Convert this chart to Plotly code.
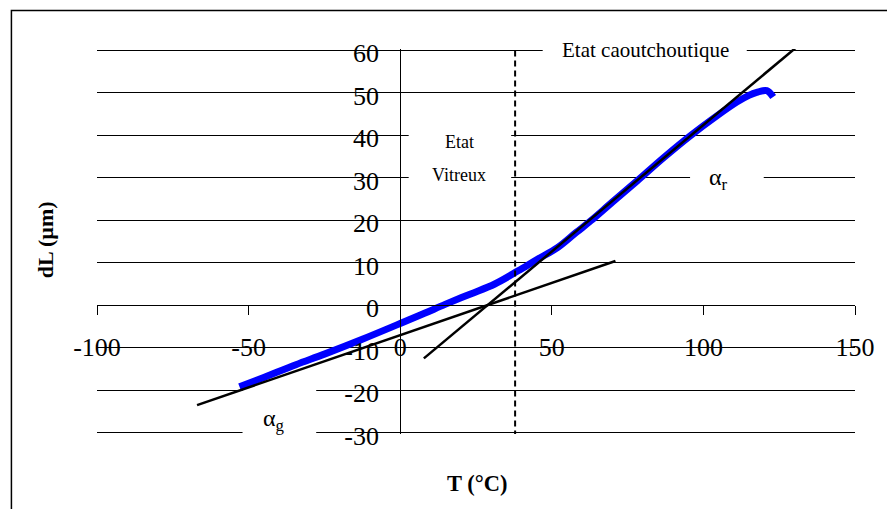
import plotly.graph_objects as go

# ---- data ----
temp_c = [-53, -45, -34.4, -25, -12.5, 0, 8, 14.8, 23, 31.2, 38.9, 45, 52, 58, 62.9, 70,
          78.2, 87, 95.7, 104.5, 111, 115, 117.6, 120.9, 123]
dl_um = [-19.2, -17.0, -14.0, -11.5, -8.0, -4.3, -1.9, 0.2, 2.6, 5.0, 8.1, 10.7, 13.6, 17.1,
         19.9, 24.3, 29.3, 34.8, 39.9, 44.6, 47.8, 49.4, 50.1, 50.5, 49.0]

glass_t = [-67, 71]
glass_dl = [-23.5, 10.4]
rubber_t = [7.8, 131]
rubber_dl = [-12.5, 60.9]
tg_t = [37.9, 37.9]
tg_dl = [-30.9, 60]

x_ticks = [-100, -50, 0, 50, 100, 150]
x_labels = ["-100", "-50", "0", "50", "100", "150"]
y_ticks = [-30, -20, -10, 0, 10, 20, 30, 40, 50, 60]
y_labels = ["-30", "-20", "-10", "0", "10", "20", "30", "40", "50", "60"]

SERIF = "Liberation Serif, Times New Roman, serif"

fig = go.Figure()
fig.add_trace(go.Scatter(x=temp_c, y=dl_um, mode="lines", line=dict(color="#0000FF", width=7, shape="spline"),
                         showlegend=False, hoverinfo="skip"))
fig.add_trace(go.Scatter(x=glass_t, y=glass_dl, mode="lines", line=dict(color="black", width=2.5),
                         showlegend=False, hoverinfo="skip"))
fig.add_trace(go.Scatter(x=rubber_t, y=rubber_dl, mode="lines", line=dict(color="black", width=2.5),
                         showlegend=False, hoverinfo="skip"))
fig.add_trace(go.Scatter(x=tg_t, y=tg_dl, mode="lines", line=dict(color="black", width=2, dash="6px,4px"),
                         showlegend=False, hoverinfo="skip"))

# white label boxes that interrupt the gridlines (below traces, above grid)
for (x0, x1, y0, y1) in [(47, 114.3, 56.5, 63), (2.8, 36.6, 27, 43), (95.6, 119.9, 26, 33.5),
                         (-52, -27.7, -33, -19.5)]:
    fig.add_shape(type="rect", x0=x0, x1=x1, y0=y0, y1=y1, xref="x", yref="y",
                  fillcolor="white", line=dict(width=0), layer="between")

# outer chart-area border (extends beyond the window on right/bottom)
fig.add_shape(type="rect", xref="paper", yref="paper", x0=-0.1129, x1=1.3, y0=-0.5, y1=1.0999,
              line=dict(color="black", width=1.5), fillcolor="rgba(0,0,0,0)", layer="above")

ann = [
    dict(x=80.9, y=59.9, text="Etat caoutchoutique", size=21, ys=1),
    dict(x=19.5, y=38.3, text="Etat", size=18, ys=0),
    dict(x=19.5, y=30.6, text="Vitreux", size=18, ys=0),
    dict(x=105, y=29.8, text="α<sub>r</sub>", size=24, ys=0),
    dict(x=-41.5, y=-27.0, text="α<sub>g</sub>", size=24, ys=0),
]
for a in ann:
    fig.add_annotation(x=a["x"], y=a["y"], xref="x", yref="y", text=a["text"], showarrow=False,
                       font=dict(family=SERIF, size=a["size"], color="black"),
                       xanchor="center", yanchor="middle", yshift=a["ys"])

fig.add_annotation(x=0.501, y=-0.128, xref="paper", yref="paper", text="<b>T (°C)</b>", showarrow=False,
                   font=dict(family=SERIF, size=22.5, color="black"), xanchor="center", yanchor="middle")
fig.add_annotation(x=-0.067, y=0.504, xref="paper", yref="paper", text="<b>dL (µm)</b>", showarrow=False,
                   textangle=-90, font=dict(family=SERIF, size=22, color="black"),
                   xanchor="center", yanchor="middle")

fig.update_layout(
    width=887, height=509,
    margin=dict(l=97, r=28, t=49.4, b=75.4),
    paper_bgcolor="white", plot_bgcolor="white",
    showlegend=False,
    font=dict(family=SERIF, color="black"),
    xaxis=dict(range=[-100, 150], tickvals=x_ticks, ticktext=x_labels, showgrid=False, zeroline=False,
               showline=True, linecolor="black", linewidth=1,
               anchor="free", position=30.3 / 90.6, ticks="outside", ticklen=9, tickcolor="black",
               tickfont=dict(family=SERIF, size=26, color="black"), ticklabelstandoff=10),
    yaxis=dict(range=[-30.3, 60.3], tickvals=y_ticks, ticktext=y_labels, showgrid=True,
               gridcolor="black", gridwidth=1,
               zeroline=False, showline=True, linecolor="black", linewidth=1,
               anchor="free", position=0.4, ticks="outside", ticklen=9, tickcolor="black",
               tickfont=dict(family=SERIF, size=26, color="black"), ticklabelstandoff=7,
               ticklabelshift=3),
)

fig.write_html("out.html", config={"displayModeBar": False},
               post_script="document.body.style.margin='0px';")
